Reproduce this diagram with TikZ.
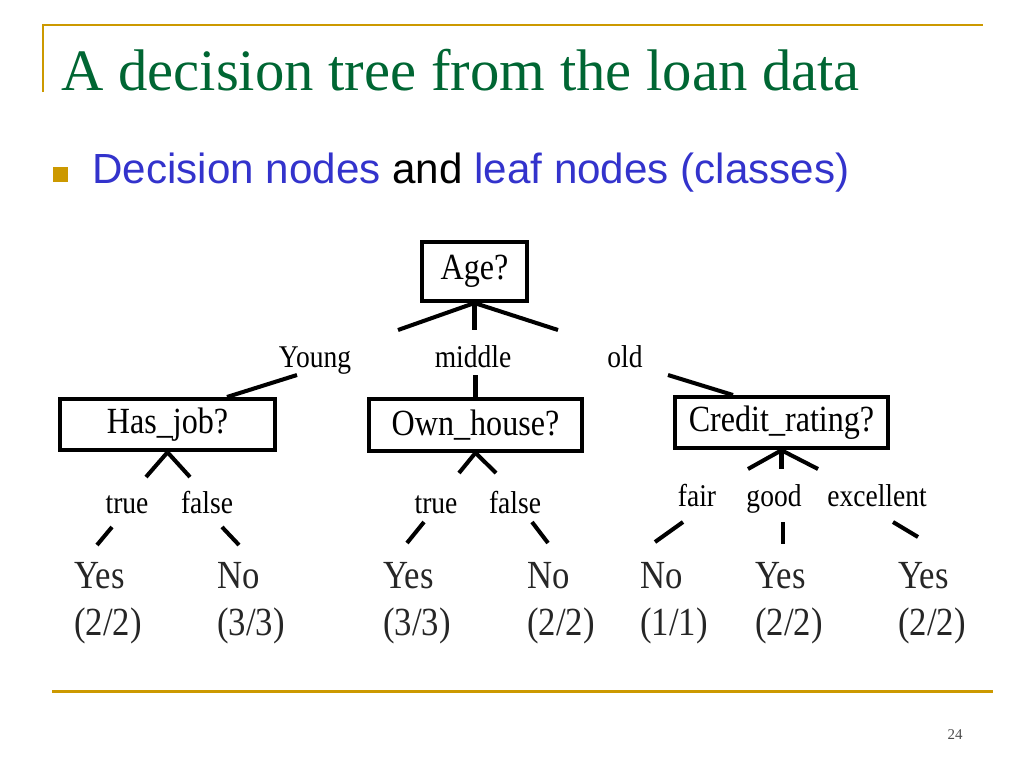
\documentclass[tikz,border=0pt]{standalone}
\usepackage{fontspec}
\setmainfont{Liberation Serif}
\newfontfamily\slidesans{Liberation Sans}
\newfontfamily\treefont[FakeStretch=0.87]{Liberation Serif}
\definecolor{slidegold}{RGB}{204,153,0}
\definecolor{titlegreen}{RGB}{0,102,51}
\definecolor{bulletblue}{RGB}{51,51,204}

\begin{document}
\begin{tikzpicture}[x=0.02cm, y=-0.02cm,
    box/.style={draw, line width=2.3pt, inner sep=0pt, minimum height=1.03cm,
        font=\treefont\fontsize{21}{24}\selectfont},
    branch/.style={line width=2.3pt},
    lbl/.style={inner sep=0pt, anchor=base, font=\treefont\fontsize{18}{21}\selectfont},
    leaf/.style={inner sep=0pt, anchor=base west, align=left, text=black!85,
        font=\treefont\fontsize{22.7}{26.6}\selectfont}]
    \useasboundingbox (0,0) rectangle (1024,768);

    % Slide frame: gold rule on top with short left edge, and the bottom rule
    \draw[slidegold, line width=1.3pt] (43,92) -- (43,25) -- (983,25);
    \draw[slidegold, line width=1.7pt] (52,691) -- (993,691);

    % Title and the bullet line
    \node[inner sep=0pt, anchor=base west, text=titlegreen] (title) at (61,90)
        {\fontsize{33.4}{37}\selectfont A decision tree from the loan data};
    \fill[slidegold] (53,167) rectangle (68,182);
    \node[inner sep=0pt, anchor=base west, text=bulletblue] (subtitle) at (92,183)
        {\slidesans\fontsize{24}{27}\selectfont Decision nodes \textcolor{black}{and} leaf nodes (classes)};

    % Decision nodes
    \node[box, minimum width=2.1cm, minimum height=1.18cm] (age) at (474.5,271.5) {Age?};
    \node[box, minimum width=4.3cm] (hasjob) at (167.5,424.5) {Has\_job?};
    \node[box, minimum width=4.26cm] (ownhouse) at (475.5,425) {Own\_house?};
    \node[box, minimum width=4.26cm] (credit) at (781.5,422.5) {Credit\_rating?};

    % Branch labels
    \node[lbl] (young) at (315,367) {Young};
    \node[lbl] (middle) at (473,367) {middle};
    \node[lbl] (old) at (625,367) {old};
    \node[lbl] (hjtrue) at (127,513) {true};
    \node[lbl] (hjfalse) at (207,513) {false};
    \node[lbl] (ohtrue) at (436,513) {true};
    \node[lbl] (ohfalse) at (515,513) {false};
    \node[lbl] (fair) at (697,506) {fair};
    \node[lbl] (good) at (774,506) {good};
    \node[lbl] (excellent) at (877,506) {excellent};

    % Leaf nodes (classes), placed by the baseline of the count line
    \node[leaf] (leafa) at (74,635) {Yes\\(2/2)};
    \node[leaf] (leafb) at (217,635) {No\\(3/3)};
    \node[leaf] (leafc) at (383,635) {Yes\\(3/3)};
    \node[leaf] (leafd) at (527,635) {No\\(2/2)};
    \node[leaf] (leafe) at (640,635) {No\\(1/1)};
    \node[leaf] (leaff) at (755,635) {Yes\\(2/2)};
    \node[leaf] (leafg) at (898,635) {Yes\\(2/2)};

    % Free ends of the broken branches
    \coordinate (ag1) at (398,330);
    \coordinate (ag2) at (474.5,330);
    \coordinate (ag3) at (558,330);
    \coordinate (yo1) at (297,375);
    \coordinate (yo2) at (227,397);
    \coordinate (mi1) at (475.5,375);
    \coordinate (ol1) at (668,375);
    \coordinate (ol2) at (733,395);
    \coordinate (hj1) at (146,477);
    \coordinate (hj2) at (190,477);
    \coordinate (hj3) at (112,527);
    \coordinate (hj4) at (97,545);
    \coordinate (hj5) at (222,527);
    \coordinate (hj6) at (239,545);
    \coordinate (oh1) at (459,473);
    \coordinate (oh2) at (496,473);
    \coordinate (oh3) at (424,522);
    \coordinate (oh4) at (407,543);
    \coordinate (oh5) at (532,522);
    \coordinate (oh6) at (548,543);
    \coordinate (cr1) at (748,469);
    \coordinate (cr2) at (781.5,469);
    \coordinate (cr3) at (818,469);
    \coordinate (cr4) at (683,522);
    \coordinate (cr5) at (655,542);
    \coordinate (cr6) at (783,522);
    \coordinate (cr7) at (783,544);
    \coordinate (cr8) at (893,522);
    \coordinate (cr9) at (918,537);

    % Branches
    \draw[branch] (age.south) -- (ag1);
    \draw[branch] (age.south) -- (ag2);
    \draw[branch] (age.south) -- (ag3);
    \draw[branch] (yo1) -- (yo2);
    \draw[branch] (mi1) -- (ownhouse);
    \draw[branch] (ol1) -- (ol2);
    \draw[branch] (hasjob.south) -- (hj1);
    \draw[branch] (hasjob.south) -- (hj2);
    \draw[branch] (hj3) -- (hj4);
    \draw[branch] (hj5) -- (hj6);
    \draw[branch] (ownhouse.south) -- (oh1);
    \draw[branch] (ownhouse.south) -- (oh2);
    \draw[branch] (oh3) -- (oh4);
    \draw[branch] (oh5) -- (oh6);
    \draw[branch] (credit.south) -- (cr1);
    \draw[branch] (credit.south) -- (cr2);
    \draw[branch] (credit.south) -- (cr3);
    \draw[branch] (cr4) -- (cr5);
    \draw[branch] (cr6) -- (cr7);
    \draw[branch] (cr8) -- (cr9);

    % Page number
    \node[text=black!70] (pagenum) at (955,735) {\fontsize{8.5}{10}\selectfont 24};
\end{tikzpicture}
\end{document}
